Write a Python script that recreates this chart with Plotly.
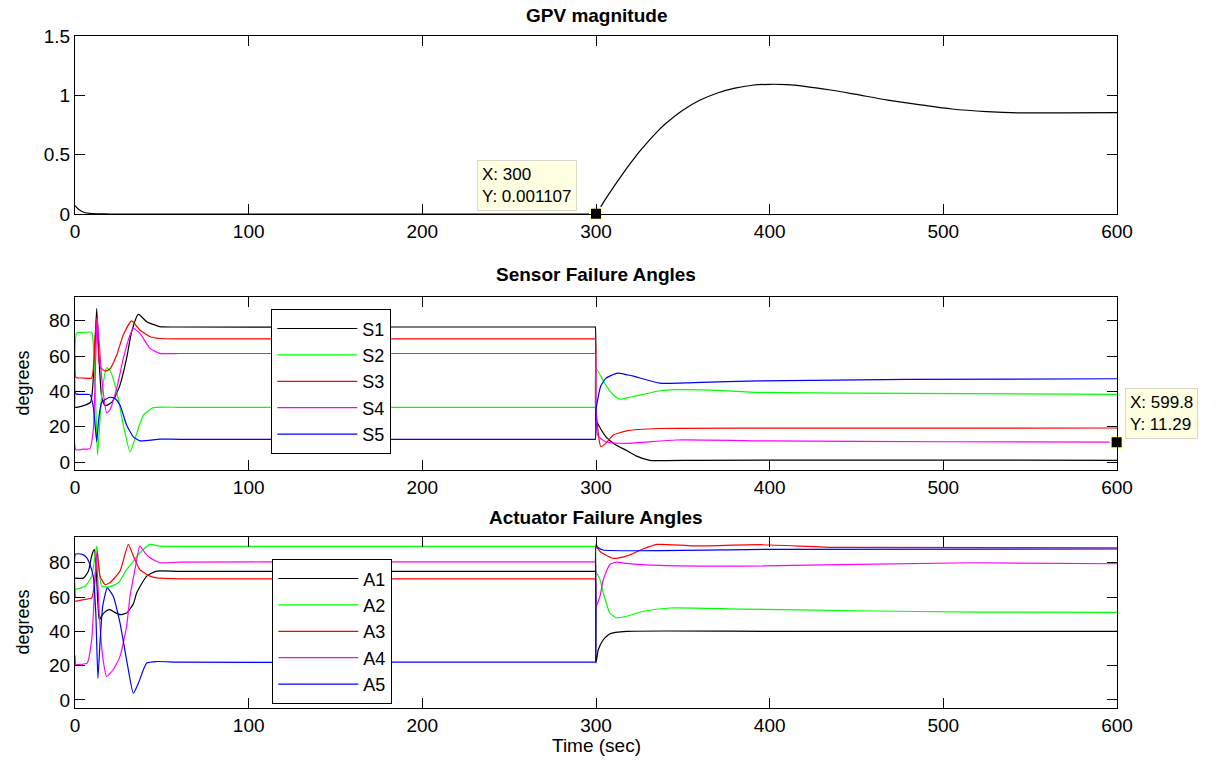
import plotly.graph_objects as go

# ---------------- data ----------------
gpv_t = [0, 2, 5, 10, 20, 100, 200, 299, 300, 305, 310, 315, 320, 325, 330, 335, 340, 350, 360, 370, 380, 390, 400, 410, 420, 435, 449, 468, 487, 505, 525, 544, 570, 600]
gpv_v = [0.07, 0.04, 0.015, 0.003, 0.0, 0.0, 0.0, 0.0, 0.001107, 0.115, 0.225, 0.33, 0.43, 0.525, 0.61, 0.69, 0.76, 0.875, 0.96, 1.02, 1.06, 1.085, 1.093, 1.09, 1.076, 1.045, 1.01, 0.96, 0.92, 0.885, 0.863, 0.852, 0.853, 0.855]

s1_t = [0, 1, 5, 9, 11, 12.5, 14, 15.5, 17.3, 20, 22, 25.9, 29.7, 32.6, 36.5, 41.3, 48.9, 60, 150, 299, 299.6, 300, 302, 306, 311, 317.6, 323, 331, 340, 360, 450, 600]
s1_v = [31, 31, 32, 34, 55, 87, 55, 36, 32, 33, 35, 43.6, 58.7, 73.8, 83.7, 79.5, 76.7, 76.5, 76.5, 76.5, 76.5, 24, 20, 14, 10, 6.5, 3.5, 1.0, 0.8, 1.0, 1.1, 1.0]

s2_t = [0, 1, 5, 9.6, 10.6, 12.1, 13, 15.4, 18.2, 20.1, 24, 27.8, 31.7, 34.6, 39.4, 45.1, 60, 150, 299, 299.6, 300, 305, 310, 313.9, 321, 336.8, 346, 365.6, 394, 450, 600]
s2_v = [40, 73, 73.5, 73.5, 66, 28, 4, 38, 53.4, 52, 40, 21, 5.8, 13.4, 26.6, 30.8, 31, 31, 31, 31, 53, 44.6, 38, 35.6, 37, 40.4, 41, 40.8, 39.5, 39, 38.3]

s3_t = [0, 0.5, 5, 9.6, 11.5, 12.5, 14.4, 17.3, 20.1, 24, 27.8, 32.6, 37.4, 43.2, 48.9, 60, 150, 299, 299.6, 300, 302.8, 306, 310, 317.6, 336.8, 400, 600]
s3_v = [60, 48, 47.6, 47.6, 70, 82, 54, 51.5, 52.7, 60.6, 72, 80, 74.8, 71, 70, 69.8, 69.8, 69.8, 69.8, 30, 8.7, 11, 15.3, 17.7, 19, 19.2, 19.3]

s4_t = [0, 0.5, 5, 8.6, 10.6, 12.8, 15.4, 18.2, 20.1, 24, 27.8, 31.7, 33.6, 37.4, 43.2, 48.9, 60, 150, 299, 299.6, 300, 301, 305.6, 317.6, 346, 400, 500, 599.8]
s4_v = [40, 7, 7.3, 7.6, 19, 81.8, 47.4, 28, 29.5, 41.7, 58.7, 72, 75.7, 72.9, 64.4, 61.6, 61.5, 61.5, 61.5, 61.5, 30, 15, 11.5, 10.6, 12.5, 12, 11.5, 11.29]

s5_t = [0, 1, 5, 8.6, 10.6, 12.5, 13.5, 15.4, 20.1, 23, 25.9, 29.7, 33.6, 37.4, 48.9, 60, 150, 299, 299.6, 300, 302.6, 305.6, 312.3, 321, 336.8, 356, 394, 480, 600]
s5_v = [39.5, 38.5, 38.3, 38.2, 31, 11.5, 23, 34, 36.7, 36, 32.3, 21, 14.3, 12, 13, 12.9, 12.9, 12.9, 12.9, 29.5, 42.7, 47.4, 50.4, 48.8, 44.7, 45, 46, 46.8, 47.2]

a1_t = [0, 4.8, 7.7, 9.6, 11.1, 12.5, 14, 16, 18.2, 20.1, 23, 25.9, 29.7, 33.6, 35.5, 41.3, 47, 60, 150, 299, 299.6, 300, 301.3, 304.2, 308, 317.7, 400, 600]
a1_v = [71, 71, 75, 84, 87.8, 70, 46.8, 50, 52, 52.7, 51, 49.7, 50.7, 56, 62.4, 72.2, 75.1, 75, 75, 75, 75, 21.5, 29.3, 35.1, 38.6, 40, 40, 40]

a2_t = [0, 5.8, 9.6, 12.5, 14, 15.4, 20.1, 25, 29.7, 33.6, 37.4, 43.2, 48.9, 60, 150, 299, 299.6, 300, 302.3, 304.2, 308, 311.9, 317.7, 327.3, 342.7, 383, 450, 520, 600]
a2_v = [64.4, 66.3, 72, 89.7, 75, 66.3, 66, 68.3, 76, 81, 85.8, 90.7, 89.7, 89.5, 89.5, 89.5, 89.5, 75, 70.2, 62.4, 50.7, 47.8, 48.8, 51.7, 53.6, 53, 52, 51.2, 51]

a3_t = [0, 5, 9.6, 11.5, 12.7, 14.4, 17.3, 20.1, 25.9, 30.7, 33.6, 37.4, 43.2, 47, 60, 150, 299, 299.6, 300, 303, 310, 318, 327, 335, 356, 395, 440, 600]
a3_v = [57.5, 58.5, 59.5, 70, 86.8, 72.2, 67.3, 68.3, 75.1, 90.7, 83.9, 76, 72.2, 71.2, 70.6, 70.6, 70.6, 70.6, 89, 86, 82.5, 84, 88, 90.7, 89.8, 90.5, 88.9, 88.7]

a4_t = [0, 0.5, 1, 7, 9.6, 10.6, 12.3, 14, 16, 18.2, 22, 25.9, 29.7, 31.7, 34.5, 37.4, 40.3, 43.2, 48.9, 60, 150, 299, 299.6, 300, 302.3, 304.2, 308, 311.9, 317.7, 336.9, 383, 517, 600]
a4_v = [26, 20, 20.5, 21.5, 35, 50.7, 85, 50, 25, 13.7, 17.6, 25.4, 42.9, 60.5, 76, 89.7, 85.8, 82.9, 80, 80.3, 80.5, 80.5, 80.5, 54.6, 60.5, 70.2, 79, 80.4, 79.6, 78.4, 78, 80, 79.4]

a5_t = [0, 0.3, 4, 6.7, 8.6, 10.5, 12, 13.2, 14.5, 16, 18.6, 22, 25.9, 29.7, 33.6, 36.5, 41.3, 47, 60, 150, 299, 299.6, 300, 301, 304, 400, 600]
a5_v = [60, 85, 85, 83, 79, 72, 50, 12.7, 35, 55, 65.3, 60.5, 44.9, 23.4, 3.9, 9.8, 21.5, 22.4, 22, 22, 22, 22, 90.7, 89, 87.4, 87.8, 88]

tip1 = (300, 0.001107)
tip2 = (599.8, 11.29)

sensor_names = ["S1", "S2", "S3", "S4", "S5"]
actuator_names = ["A1", "A2", "A3", "A4", "A5"]
colors = ["#000000", "#00FF00", "#FF0000", "#FF00FF", "#0000FF"]

x_ticks = [0, 100, 200, 300, 400, 500, 600]
gpv_ticks = [0, 0.5, 1, 1.5]
gpv_ticklabels = ["0", "0.5", "1", "1.5"]
deg_ticks = [0, 20, 40, 60, 80]

# ---------------- figure ----------------
W, H = 1223, 761
FONT = "Liberation Sans, Arial, Helvetica, sans-serif"

fig = go.Figure()
LS = dict(shape="spline", smoothing=0.5, width=1.2)

fig.add_trace(go.Scatter(x=gpv_t, y=gpv_v, mode="lines",
                         line=dict(color="#000000", shape="spline", smoothing=0.8, width=1.2),
                         showlegend=False, xaxis="x", yaxis="y"))

for i, (name, col, tt, vv) in enumerate(zip(sensor_names, colors,
                                            [s1_t, s2_t, s3_t, s4_t, s5_t],
                                            [s1_v, s2_v, s3_v, s4_v, s5_v])):
    fig.add_trace(go.Scatter(x=tt, y=vv, mode="lines", name=name, line=dict(color=col, **LS),
                             xaxis="x2", yaxis="y2", legend="legend", legendrank=i + 1))

for i, (name, col, tt, vv) in enumerate(zip(actuator_names, colors,
                                            [a1_t, a2_t, a3_t, a4_t, a5_t],
                                            [a1_v, a2_v, a3_v, a4_v, a5_v])):
    fig.add_trace(go.Scatter(x=tt, y=vv, mode="lines", name=name, line=dict(color=col, **LS),
                             xaxis="x3", yaxis="y3", legend="legend2", legendrank=i + 1))

# data tip markers
fig.add_trace(go.Scatter(x=[tip1[0]], y=[tip1[1]], mode="markers", showlegend=False, cliponaxis=False,
                         marker=dict(symbol="square", size=12, color="#000000",
                                     line=dict(color="#FFFFC8", width=2)), xaxis="x", yaxis="y"))
fig.add_trace(go.Scatter(x=[tip2[0]], y=[tip2[1]], mode="markers", showlegend=False, cliponaxis=False,
                         marker=dict(symbol="square", size=12, color="#000000",
                                     line=dict(color="#FFFFC8", width=2)), xaxis="x2", yaxis="y2"))

xl, xr = 75 / W, 1117 / W

def dom(top, bot):
    return [1 - bot / H, 1 - top / H]

axis_common = dict(showline=True, linecolor="#000000", linewidth=1.3, mirror="ticks",
                   ticks="inside", ticklen=10, tickcolor="#000000", tickwidth=1,
                   showgrid=False, zeroline=False, automargin=False,
                   tickfont=dict(family=FONT, size=19, color="#000000"))

leg_common = dict(xanchor="left", yanchor="top", bgcolor="#FFFFFF",
                  bordercolor="#000000", borderwidth=1.3, itemwidth=80,
                  font=dict(family=FONT, size=18, color="#000000"), tracegroupgap=0)

fig.update_layout(
    width=W, height=H, margin=dict(l=0, r=0, t=0, b=0, pad=0, autoexpand=False),
    paper_bgcolor="#FFFFFF", plot_bgcolor="#FFFFFF",
    font=dict(family=FONT, color="#000000"),
    xaxis=dict(domain=[xl, xr], range=[0, 600], tickvals=x_ticks, anchor="y", **axis_common),
    yaxis=dict(domain=dom(36, 214), range=[0, 1.5], tickvals=gpv_ticks, ticktext=gpv_ticklabels,
               anchor="x", **axis_common),
    xaxis2=dict(domain=[xl, xr], range=[0, 600], tickvals=x_ticks, anchor="y2", **axis_common),
    yaxis2=dict(domain=dom(297, 470), range=[-4.5, 93.5], tickvals=deg_ticks, anchor="x2", **axis_common),
    xaxis3=dict(domain=[xl, xr], range=[0, 600], tickvals=x_ticks, anchor="y3", **axis_common),
    yaxis3=dict(domain=dom(537, 708), range=[-4.7, 95], tickvals=deg_ticks, anchor="x3", **axis_common),
    legend=dict(x=271 / W, y=1 - 309 / H, **leg_common),
    legend2=dict(x=272 / W, y=1 - 559 / H, **leg_common),
)

ann = []
titles = [("GPV magnitude", 16), ("Sensor Failure Angles", 275), ("Actuator Failure Angles", 517)]
for txt, yc in titles:
    ann.append(dict(text="<b>%s</b>" % txt, x=(75 + 1117) / 2 / W, y=1 - yc / H, xref="paper", yref="paper",
                    xanchor="center", yanchor="middle", showarrow=False,
                    font=dict(family=FONT, size=19, color="#000000")))
for yc in [(297 + 470) / 2, (537 + 708) / 2]:
    ann.append(dict(text="degrees", x=22 / W, y=1 - yc / H, xref="paper", yref="paper", textangle=-90,
                    xanchor="center", yanchor="middle", showarrow=False,
                    font=dict(family=FONT, size=18, color="#000000")))
ann.append(dict(text="Time (sec)", x=(75 + 1117) / 2 / W, y=1 - 745 / H, xref="paper", yref="paper",
                xanchor="center", yanchor="middle", showarrow=False,
                font=dict(family=FONT, size=19, color="#000000")))
ann.append(dict(text="X: %g<br>Y: %s" % (tip1[0], "0.001107"), x=477 / W, y=1 - 160 / H,
                xref="paper", yref="paper", xanchor="left", yanchor="top", align="left", showarrow=False,
                bgcolor="#FFFFE1", bordercolor="#D8D8C8", borderwidth=1, borderpad=4,
                font=dict(family=FONT, size=17, color="#000000")))
ann.append(dict(text="X: %g<br>Y: %g" % (tip2[0], tip2[1]), x=1125 / W, y=1 - 388 / H,
                xref="paper", yref="paper", xanchor="left", yanchor="top", align="left", showarrow=False,
                bgcolor="#FFFFE1", bordercolor="#D8D8C8", borderwidth=1, borderpad=4,
                font=dict(family=FONT, size=17, color="#000000")))
fig.update_layout(annotations=ann)

fig.write_html("out.html",
               post_script="document.body.style.margin='0';document.body.style.padding='0';"
                           "document.body.style.overflow='hidden';")
